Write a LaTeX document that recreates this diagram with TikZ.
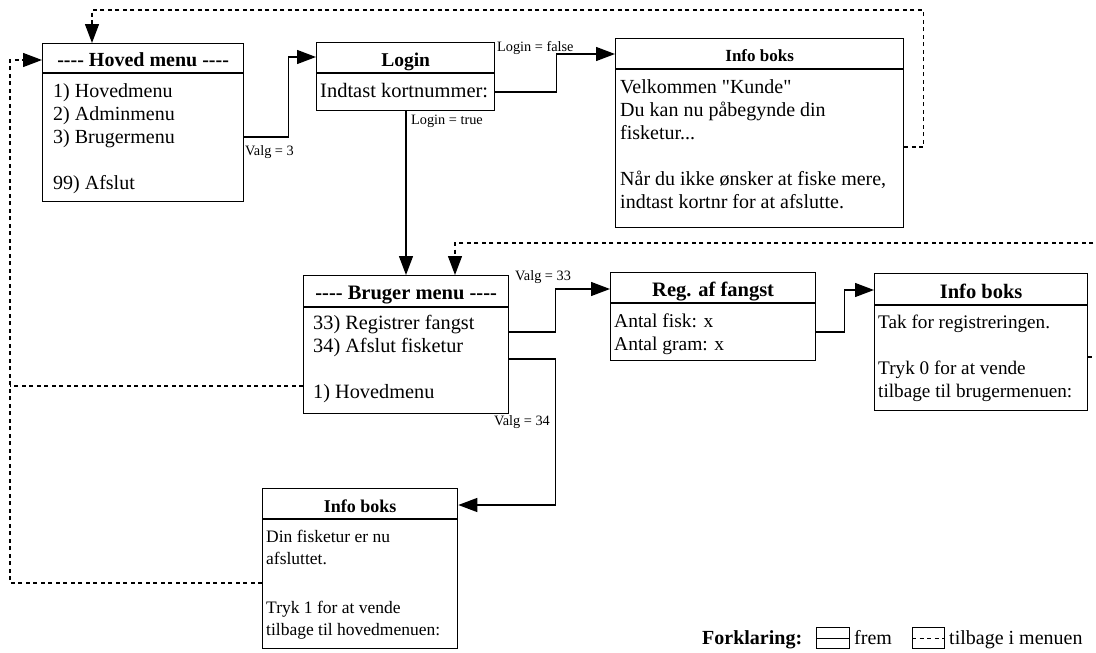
\documentclass[tikz,border=0pt]{standalone}
\usepackage{fontspec}
\setmainfont{Liberation Serif}[Ligatures=TeXOff]
\usetikzlibrary{arrows.meta,calc}

\newcommand{\headfont}[1]{\fontsize{#1}{#1}\selectfont\bfseries}
\newcommand{\lblfont}{\fontsize{14.3}{16}\selectfont}
\newcommand{\firstline}{\rule{0pt}{15pt}}

% framed box with a title band of height #6
\newcommand{\diabox}[6]{%
  \node[frame, minimum width=#4pt, minimum height=#5pt] (#1) at (#2,#3) {};
  \draw[sep] ($(#1.north west)+(0,#6)$) -- ($(#1.north east)+(0,#6)$);
}

\tikzset{
  frame/.style={draw, line width=1.3pt, inner sep=0pt, anchor=north west},
  sep/.style={line width=1.3pt},
  title/.style={anchor=base, inner sep=0pt},
  body/.style={anchor=north west, inner sep=0pt, align=left, font=\fontsize{#1}{23}\selectfont},
  body/.default=19.5,
  lbl/.style={inner sep=0pt, font=\lblfont},
  fwd/.style={line width=1.3pt, -{Triangle[length=19pt,width=14pt]}},
  back/.style={line width=1.3pt, dash pattern=on 4pt off 3.5pt},
  backarrow/.style={back, -{Triangle[length=19pt,width=14pt]}},
  legbox/.style={draw, line width=1.2pt, inner sep=0pt, minimum width=33pt, minimum height=21pt, anchor=north west},
}

\begin{document}
\begin{tikzpicture}[x=1pt,y=-1pt]
\useasboundingbox (0,0) rectangle (1096,653);
\clip (0,0) rectangle (1096,653);

% ---- boxes ----
\diabox{hoved}{42}{43}{201}{158}{30}
\node[title, font=\headfont{20}] (hoved-t) at ($(hoved.north)+(0,23)$) {---- Hoved menu ----};
\node[body=20] (hoved-b) at ($(hoved.north west)+(11,39)$)
  {\firstline 1) Hovedmenu\\2) Adminmenu\\3) Brugermenu\\[23pt]99) Afslut};

\diabox{login}{316}{42}{178}{68}{31}
\node[title, font=\headfont{19.5}] (login-t) at ($(login.north)+(0,24)$) {Login};
\node[body=20.5] (login-b) at ($(login.north west)+(4,40)$) {\firstline Indtast kortnummer:};

\diabox{infoA}{615}{38}{288}{189}{31}
\node[title, font=\headfont{17}] (infoA-t) at ($(infoA.north)+(0,23)$) {Info boks};
\node[body=20] (infoA-b) at ($(infoA.north west)+(5,40)$)
  {\firstline Velkommen "Kunde"\\Du kan nu påbegynde din\\fisketur...\\[23pt]Når du ikke ønsker at fiske mere,\\indtast kortnr for at afslutte.};

\diabox{bruger}{303}{275}{205}{138}{32}
\node[title, font=\headfont{20.5}] (bruger-t) at ($(bruger.north)+(0,24)$) {---- Bruger menu ----};
\node[body=20.3] (bruger-b) at ($(bruger.north west)+(10,39)$)
  {\firstline 33) Registrer fangst\\34) Afslut fisketur\\[23pt]1) Hovedmenu};

\diabox{reg}{610}{272}{205}{88}{31}
\node[title, font=\headfont{20.5}] (reg-t) at ($(reg.north)+(0,24)$) {Reg. af fangst};
\node[body=19.5] (reg-b) at ($(reg.north west)+(4,40)$) {\firstline Antal fisk: x\\Antal gram: x};

\diabox{infoB}{874}{273}{213}{137}{32}
\node[title, font=\headfont{20.5}] (infoB-t) at ($(infoB.north)+(0,25)$) {Info boks};
\node[body=19.2] (infoB-b) at ($(infoB.north west)+(4,40)$)
  {\firstline Tak for registreringen.\\[23pt]Tryk 0 for at vende\\tilbage til brugermenuen:};

\diabox{infoC}{262}{488}{195}{160}{31}
\node[title, font=\headfont{18}] (infoC-t) at ($(infoC.north)+(0,24)$) {Info boks};
\node[anchor=north west, inner sep=0pt, align=left, font=\fontsize{17.5}{22}\selectfont] (infoC-b) at ($(infoC.north west)+(4,39)$)
  {\firstline Din fisketur er nu\\afsluttet.\\[27pt]Tryk 1 for at vende\\tilbage til hovedmenuen:};

% ---- forward connectors ----
\draw[fwd] ($(hoved.north east)+(0,94)$) -- ++(44,0) |- ($(login.north west)+(0,15)$);
\draw[fwd] ($(login.north east)+(0,50)$) -- ++(61,0) |- ($(infoA.north west)+(0,16)$);
\coordinate (lt) at ($(login.south west)+(90,0)$);
\draw[fwd] (lt) -- (lt |- bruger.north);
\draw[fwd] ($(bruger.north east)+(0,57)$) -- ++(46,0) |- ($(reg.north west)+(0,17)$);
\draw[fwd] ($(bruger.north east)+(0,84)$) -- ++(46,0) |- ($(infoC.north east)+(0,17)$);
\draw[fwd] ($(reg.north east)+(0,60)$) -- ++(28,0) |- ($(infoB.north west)+(0,17)$);

% ---- connector labels ----
\node[lbl, anchor=base west] (l3) at (245,155) {Valg = 3};
\node[lbl, anchor=base west] (lfalse) at (497,51) {Login = false};
\node[lbl, anchor=base west] (ltrue) at (411,124) {Login = true};
\node[lbl, anchor=base west] (l33) at (515,280) {Valg = 33};
\node[lbl, anchor=base east] (l34) at (550,425) {Valg = 34};

% ---- back connectors ----
\draw[backarrow] ($(infoA.north east)+(0,109)$) -- ++(19,0) -- ++(0,-137) -| ($(hoved.north west)+(50,0)$);
\draw[backarrow] ($(infoB.north east)+(0,84)$) -- ++(13,0) -- ++(0,-114) -| ($(bruger.north west)+(152,0)$);
\draw[backarrow] ($(infoC.north west)+(0,95)$) -- ++(-252,0) |- ($(hoved.north west)+(0,17)$);
\coordinate (railjoin) at ($(bruger.north west)+(-293,111)$);
\draw[back] ($(bruger.north west)+(0,111)$) -- (railjoin);

% ---- legend ----
\node[anchor=base west, inner sep=0pt, font=\headfont{20}] (leg) at (702,644) {Forklaring:};
\node[legbox] (legA) at (816,627) {};
\draw[line width=1.2pt] (legA.west) -- (legA.east);
\node[anchor=base west, inner sep=0pt, font=\fontsize{20}{22}\selectfont] (legA-t) at (854,644) {frem};
\node[legbox, minimum width=32pt] (legB) at (912,627) {};
\draw[line width=1.2pt, dash pattern=on 4pt off 3.5pt] (legB.west) -- (legB.east);
\node[anchor=base west, inner sep=0pt, font=\fontsize{20}{22}\selectfont] (legB-t) at (949,644) {tilbage i menuen};

\end{tikzpicture}
\end{document}
